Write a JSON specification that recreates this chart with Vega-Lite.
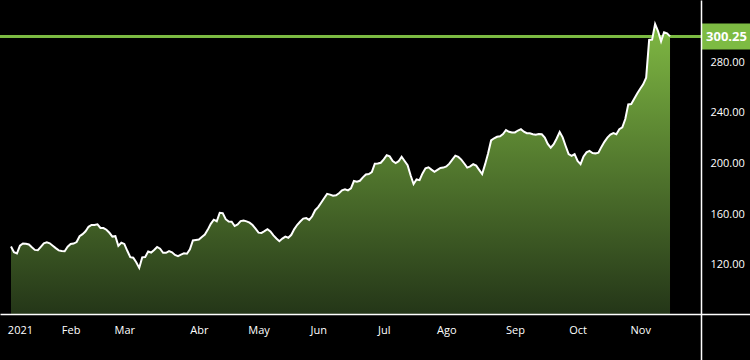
{
  "$schema": "https://vega.github.io/schema/vega-lite/v6.json",
  "width": 701,
  "height": 360,
  "autosize": {"type": "none"},
  "padding": {"left": 0, "top": 0, "right": 49, "bottom": 0},
  "background": "#000000",
  "config": {
    "view": {"stroke": null},
    "font": "Open Sans",
    "axis": {"labelFont": "Open Sans", "grid": false}
  },
  "data": {
    "values": [
      {"n":0,"d":"2020-12-31","v":134.6},
      {"n":1,"d":"2021-01-04","v":130.1},{"n":2,"d":"2021-01-05","v":129.1},{"n":3,"d":"2021-01-06","v":135.3},{"n":4,"d":"2021-01-07","v":137.0},{"n":5,"d":"2021-01-08","v":136.8},
      {"n":6,"d":"2021-01-11","v":136.2},{"n":7,"d":"2021-01-12","v":134.0},{"n":8,"d":"2021-01-13","v":131.9},{"n":9,"d":"2021-01-14","v":131.6},{"n":10,"d":"2021-01-15","v":134.3},
      {"n":11,"d":"2021-01-19","v":137.1},{"n":12,"d":"2021-01-20","v":137.8},{"n":13,"d":"2021-01-21","v":137.1},{"n":14,"d":"2021-01-22","v":135.2},
      {"n":15,"d":"2021-01-25","v":133.3},{"n":16,"d":"2021-01-26","v":131.5},{"n":17,"d":"2021-01-27","v":131.0},{"n":18,"d":"2021-01-28","v":130.8},{"n":19,"d":"2021-01-29","v":134.4},
      {"n":20,"d":"2021-02-01","v":136.6},{"n":21,"d":"2021-02-02","v":136.9},{"n":22,"d":"2021-02-03","v":138.1},{"n":23,"d":"2021-02-04","v":142.7},{"n":24,"d":"2021-02-05","v":144.3},
      {"n":25,"d":"2021-02-08","v":146.6},{"n":26,"d":"2021-02-09","v":150.1},{"n":27,"d":"2021-02-10","v":151.6},{"n":28,"d":"2021-02-11","v":151.6},{"n":29,"d":"2021-02-12","v":152.1},
      {"n":30,"d":"2021-02-16","v":149.2},{"n":31,"d":"2021-02-17","v":149.1},{"n":32,"d":"2021-02-18","v":147.8},{"n":33,"d":"2021-02-19","v":145.4},
      {"n":34,"d":"2021-02-22","v":142.4},{"n":35,"d":"2021-02-23","v":142.7},{"n":36,"d":"2021-02-24","v":135.1},{"n":37,"d":"2021-02-25","v":137.5},{"n":38,"d":"2021-02-26","v":136.6},
      {"n":39,"d":"2021-03-01","v":131.2},{"n":40,"d":"2021-03-02","v":126.2},{"n":41,"d":"2021-03-03","v":125.7},{"n":42,"d":"2021-03-04","v":122.1},{"n":43,"d":"2021-03-05","v":117.7},
      {"n":44,"d":"2021-03-08","v":126.0},{"n":45,"d":"2021-03-09","v":126.3},{"n":46,"d":"2021-03-10","v":130.6},{"n":47,"d":"2021-03-11","v":129.8},{"n":48,"d":"2021-03-12","v":131.8},
      {"n":49,"d":"2021-03-15","v":134.2},{"n":50,"d":"2021-03-16","v":132.8},{"n":51,"d":"2021-03-17","v":129.6},{"n":52,"d":"2021-03-18","v":129.6},{"n":53,"d":"2021-03-19","v":130.9},
      {"n":54,"d":"2021-03-22","v":130.0},{"n":55,"d":"2021-03-23","v":127.9},{"n":56,"d":"2021-03-24","v":127.0},{"n":57,"d":"2021-03-25","v":128.2},{"n":58,"d":"2021-03-26","v":129.2},
      {"n":59,"d":"2021-03-29","v":128.9},{"n":60,"d":"2021-03-30","v":132.4},{"n":61,"d":"2021-03-31","v":139.3},
      {"n":62,"d":"2021-04-01","v":139.7},
      {"n":63,"d":"2021-04-05","v":140.1},{"n":64,"d":"2021-04-06","v":142.1},{"n":65,"d":"2021-04-07","v":144.0},{"n":66,"d":"2021-04-08","v":147.9},{"n":67,"d":"2021-04-09","v":152.4},
      {"n":68,"d":"2021-04-12","v":155.7},{"n":69,"d":"2021-04-13","v":154.5},{"n":70,"d":"2021-04-14","v":161.2},{"n":71,"d":"2021-04-15","v":160.9},{"n":72,"d":"2021-04-16","v":156.1},
      {"n":73,"d":"2021-04-19","v":154.2},{"n":74,"d":"2021-04-20","v":154.1},{"n":75,"d":"2021-04-21","v":150.7},{"n":76,"d":"2021-04-22","v":152.0},{"n":77,"d":"2021-04-23","v":154.6},
      {"n":78,"d":"2021-04-26","v":155.1},{"n":79,"d":"2021-04-27","v":154.4},{"n":80,"d":"2021-04-28","v":153.4},{"n":81,"d":"2021-04-29","v":151.5},{"n":82,"d":"2021-04-30","v":148.6},
      {"n":83,"d":"2021-05-03","v":145.5},{"n":84,"d":"2021-05-04","v":145.3},{"n":85,"d":"2021-05-05","v":146.7},{"n":86,"d":"2021-05-06","v":148.2},{"n":87,"d":"2021-05-07","v":146.4},
      {"n":88,"d":"2021-05-10","v":143.3},{"n":89,"d":"2021-05-11","v":140.9},{"n":90,"d":"2021-05-12","v":138.8},{"n":91,"d":"2021-05-13","v":140.8},{"n":92,"d":"2021-05-14","v":142.4},
      {"n":93,"d":"2021-05-17","v":141.5},{"n":94,"d":"2021-05-18","v":143.8},{"n":95,"d":"2021-05-19","v":148.3},{"n":96,"d":"2021-05-20","v":151.7},{"n":97,"d":"2021-05-21","v":154.3},
      {"n":98,"d":"2021-05-24","v":156.6},{"n":99,"d":"2021-05-25","v":157.0},{"n":100,"d":"2021-05-26","v":155.6},{"n":101,"d":"2021-05-27","v":158.4},{"n":102,"d":"2021-05-28","v":163.2},
      {"n":103,"d":"2021-06-01","v":165.6},{"n":104,"d":"2021-06-02","v":169.1},{"n":105,"d":"2021-06-03","v":172.6},{"n":106,"d":"2021-06-04","v":176.1},
      {"n":107,"d":"2021-06-07","v":175.5},{"n":108,"d":"2021-06-08","v":174.6},{"n":109,"d":"2021-06-09","v":174.9},{"n":110,"d":"2021-06-10","v":176.6},{"n":111,"d":"2021-06-11","v":178.9},
      {"n":112,"d":"2021-06-14","v":179.7},{"n":113,"d":"2021-06-15","v":178.8},{"n":114,"d":"2021-06-16","v":180.4},{"n":115,"d":"2021-06-17","v":186.2},{"n":116,"d":"2021-06-18","v":185.7},
      {"n":117,"d":"2021-06-21","v":186.4},{"n":118,"d":"2021-06-22","v":189.1},{"n":119,"d":"2021-06-23","v":191.3},{"n":120,"d":"2021-06-24","v":191.7},{"n":121,"d":"2021-06-25","v":193.3},
      {"n":122,"d":"2021-06-28","v":199.8},{"n":123,"d":"2021-06-29","v":200.0},{"n":124,"d":"2021-06-30","v":200.6},
      {"n":125,"d":"2021-07-01","v":203.3},{"n":126,"d":"2021-07-02","v":206.5},
      {"n":127,"d":"2021-07-06","v":205.6},{"n":128,"d":"2021-07-07","v":202.0},{"n":129,"d":"2021-07-08","v":200.4},{"n":130,"d":"2021-07-09","v":201.8},
      {"n":131,"d":"2021-07-12","v":205.3},{"n":132,"d":"2021-07-13","v":202.0},{"n":133,"d":"2021-07-14","v":198.6},{"n":134,"d":"2021-07-15","v":190.7},{"n":135,"d":"2021-07-16","v":183.8},
      {"n":136,"d":"2021-07-19","v":187.4},{"n":137,"d":"2021-07-20","v":186.9},{"n":138,"d":"2021-07-21","v":192.2},{"n":139,"d":"2021-07-22","v":196.2},{"n":140,"d":"2021-07-23","v":197.0},
      {"n":141,"d":"2021-07-26","v":195.2},{"n":142,"d":"2021-07-27","v":193.5},{"n":143,"d":"2021-07-28","v":195.0},{"n":144,"d":"2021-07-29","v":196.5},{"n":145,"d":"2021-07-30","v":196.8},
      {"n":146,"d":"2021-08-02","v":197.7},{"n":147,"d":"2021-08-03","v":199.9},{"n":148,"d":"2021-08-04","v":203.0},{"n":149,"d":"2021-08-05","v":206.2},{"n":150,"d":"2021-08-06","v":205.2},
      {"n":151,"d":"2021-08-09","v":203.1},{"n":152,"d":"2021-08-10","v":200.0},{"n":153,"d":"2021-08-11","v":196.8},{"n":154,"d":"2021-08-12","v":197.7},{"n":155,"d":"2021-08-13","v":199.4},
      {"n":156,"d":"2021-08-16","v":198.3},{"n":157,"d":"2021-08-17","v":195.0},{"n":158,"d":"2021-08-18","v":191.7},{"n":159,"d":"2021-08-19","v":199.5},{"n":160,"d":"2021-08-20","v":208.1},
      {"n":161,"d":"2021-08-23","v":218.2},{"n":162,"d":"2021-08-24","v":219.9},{"n":163,"d":"2021-08-25","v":221.1},{"n":164,"d":"2021-08-26","v":221.5},{"n":165,"d":"2021-08-27","v":223.2},
      {"n":166,"d":"2021-08-30","v":226.4},{"n":167,"d":"2021-08-31","v":225.0},
      {"n":168,"d":"2021-09-01","v":224.4},{"n":169,"d":"2021-09-02","v":224.5},{"n":170,"d":"2021-09-03","v":226.0},
      {"n":171,"d":"2021-09-07","v":227.1},{"n":172,"d":"2021-09-08","v":225.1},{"n":173,"d":"2021-09-09","v":223.9},{"n":174,"d":"2021-09-10","v":223.8},
      {"n":175,"d":"2021-09-13","v":223.1},{"n":176,"d":"2021-09-14","v":222.6},{"n":177,"d":"2021-09-15","v":223.2},{"n":178,"d":"2021-09-16","v":223.0},{"n":179,"d":"2021-09-17","v":220.4},
      {"n":180,"d":"2021-09-20","v":215.5},{"n":181,"d":"2021-09-21","v":212.5},{"n":182,"d":"2021-09-22","v":215.2},{"n":183,"d":"2021-09-23","v":219.7},{"n":184,"d":"2021-09-24","v":224.8},
      {"n":185,"d":"2021-09-27","v":220.6},{"n":186,"d":"2021-09-28","v":213.8},{"n":187,"d":"2021-09-29","v":207.4},{"n":188,"d":"2021-09-30","v":206.0},
      {"n":189,"d":"2021-10-01","v":207.4},
      {"n":190,"d":"2021-10-04","v":202.0},{"n":191,"d":"2021-10-05","v":199.5},{"n":192,"d":"2021-10-06","v":205.6},{"n":193,"d":"2021-10-07","v":208.8},{"n":194,"d":"2021-10-08","v":209.9},
      {"n":195,"d":"2021-10-11","v":208.3},{"n":196,"d":"2021-10-12","v":208.0},{"n":197,"d":"2021-10-13","v":208.5},{"n":198,"d":"2021-10-14","v":213.1},{"n":199,"d":"2021-10-15","v":217.1},
      {"n":200,"d":"2021-10-18","v":220.4},{"n":201,"d":"2021-10-19","v":222.8},{"n":202,"d":"2021-10-20","v":224.0},{"n":203,"d":"2021-10-21","v":223.1},{"n":204,"d":"2021-10-22","v":227.1},
      {"n":205,"d":"2021-10-25","v":228.5},{"n":206,"d":"2021-10-26","v":235.1},{"n":207,"d":"2021-10-27","v":246.6},{"n":208,"d":"2021-10-28","v":246.9},{"n":209,"d":"2021-10-29","v":251.0},
      {"n":210,"d":"2021-11-01","v":255.2},{"n":211,"d":"2021-11-02","v":258.9},{"n":212,"d":"2021-11-03","v":262.4},{"n":213,"d":"2021-11-04","v":267.7},{"n":214,"d":"2021-11-05","v":297.4},
      {"n":215,"d":"2021-11-08","v":297.7},{"n":216,"d":"2021-11-09","v":310.0},{"n":217,"d":"2021-11-10","v":304.2},{"n":218,"d":"2021-11-11","v":296.3},{"n":219,"d":"2021-11-12","v":303.5},
      {"n":220,"d":"2021-11-15","v":302.6},{"n":221,"d":"2021-11-16","v":300.25}
    ]
  },
  "encoding": {
    "x": {
      "field": "n",
      "type": "quantitative",
      "scale": {"domain": [-3.689, 231.39], "zero": false, "nice": false},
      "axis": {
        "orient": "bottom",
        "offset": -46,
        "title": null,
        "values": [3, 20, 38, 63, 83, 103, 125, 146, 169, 190, 211],
        "labelExpr": "['2021','Feb','Mar','Abr','May','Jun','Jul','Ago','Sep','Oct','Nov'][indexof([3, 20, 38, 63, 83, 103, 125, 146, 169, 190, 211], datum.value)]",
        "labelAngle": 0,
        "labelColor": "#ffffff",
        "labelFontSize": 11,
        "labelPadding": 10,
        "labelFlush": false,
        "labelOverlap": false,
        "ticks": false,
        "domainColor": "#ffffff",
        "domainWidth": 1.5,
        "zindex": 1
      }
    },
    "y": {
      "field": "v",
      "type": "quantitative",
      "scale": {"domain": [45.1, 328.9], "zero": false, "nice": false},
      "axis": {
        "orient": "right",
        "title": null,
        "values": [81.4, 120, 160, 200, 240, 280, 300.25],
        "labelExpr": "datum.value < 100 ? '' : format(datum.value, '.2f')",
        "labelColor": "#ffffff",
        "labelFontSize": {"condition": {"test": "datum.value > 290", "value": 13}, "value": 11},
        "labelFontWeight": {"condition": {"test": "datum.value > 290", "value": "bold"}, "value": "normal"},
        "labelAlign": {"condition": {"test": "datum.value > 290", "value": "center"}, "value": "left"},
        "labelPadding": {"condition": {"test": "datum.value > 290", "value": -24}, "value": 9},
        "labelBaseline": "middle",
        "labelFlush": false,
        "labelOverlap": false,
        "tickSize": {"condition": {"test": "datum.value < 100 || datum.value > 290", "value": 49}, "value": 0},
        "tickWidth": {"condition": {"test": "datum.value > 290", "value": 26}, "value": 1.5},
        "tickColor": {"condition": {"test": "datum.value > 290", "value": "#7dbb43"}, "value": "#ffffff"},
        "domainColor": "#ffffff",
        "domainWidth": 1.5,
        "zindex": 1
      }
    }
  },
  "layer": [
    {
      "mark": {
        "type": "area",
        "color": {
          "x1": 0, "y1": 0, "x2": 0, "y2": 1,
          "gradient": "linear",
          "stops": [
            {"offset": 0, "color": "#7fb843"},
            {"offset": 1, "color": "#243618"}
          ]
        }
      },
      "encoding": {"y2": {"datum": 81.4}}
    },
    {
      "mark": {"type": "rule", "color": "#7dbb43", "strokeWidth": 2},
      "encoding": {"x": null, "y": {"datum": 300.25}}
    },
    {
      "mark": {"type": "line", "color": "#ffffff", "strokeWidth": 2}
    }
  ]
}
